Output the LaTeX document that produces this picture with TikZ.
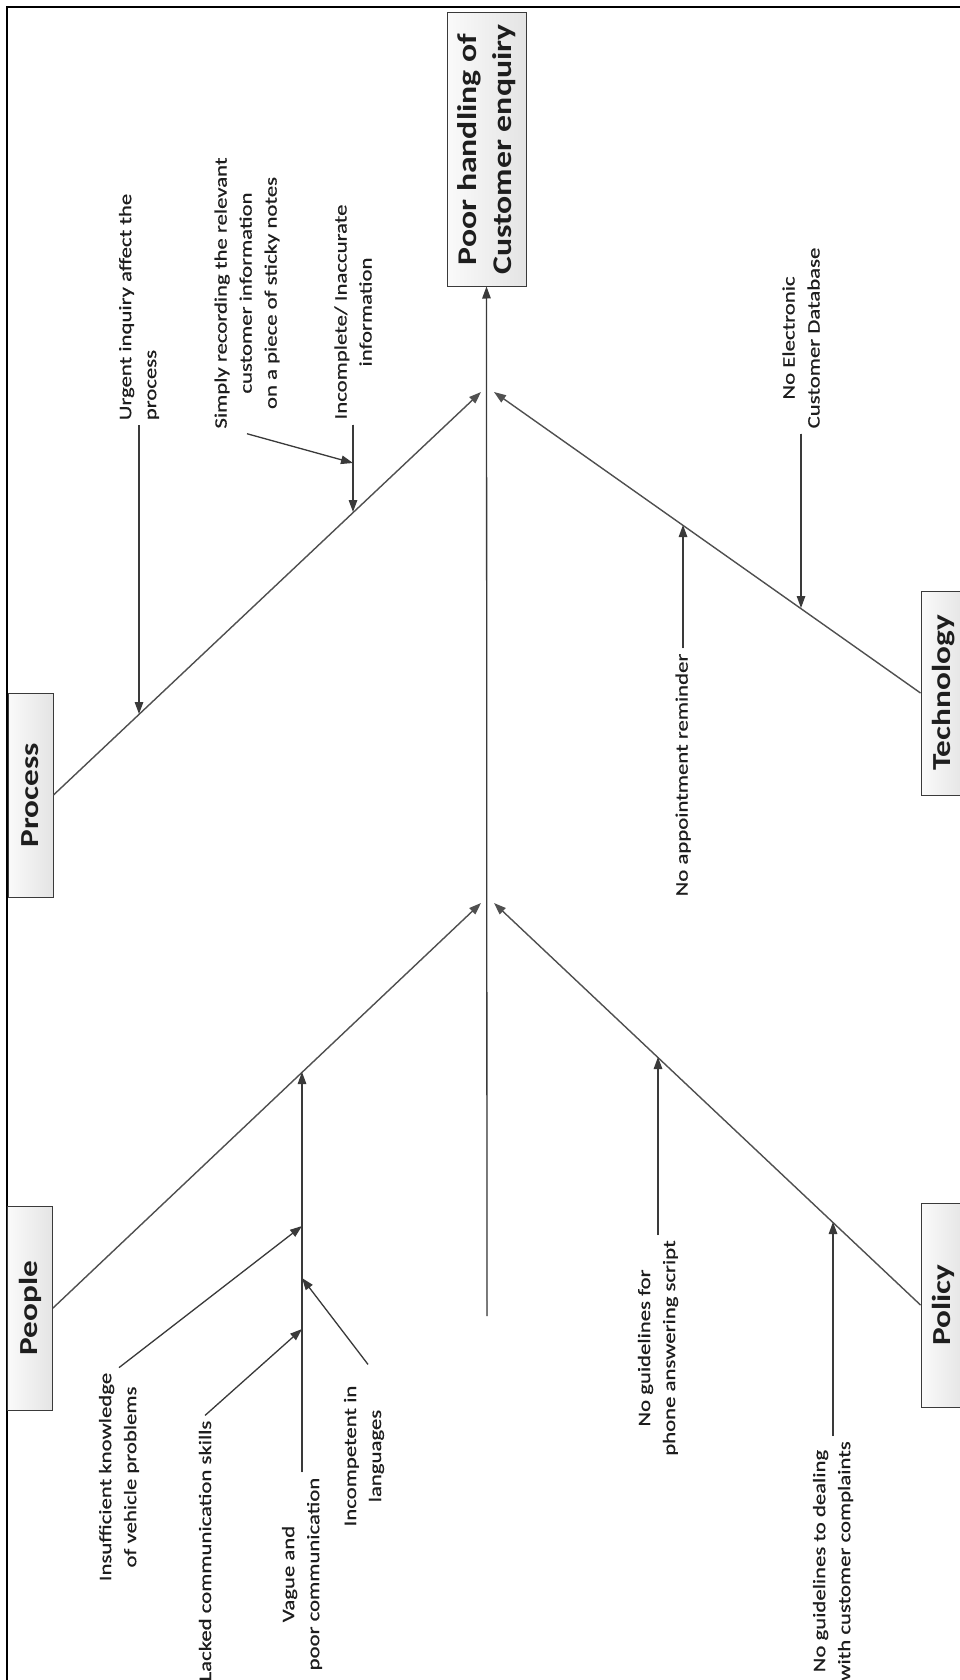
\documentclass[tikz,border=0pt]{standalone}
\usepackage{fontspec}
\setmainfont{Carlito}
\newfontfamily\labfont[FakeStretch=1.3,FakeBold=0.6]{Carlito}
\newfontfamily\titfont[FakeStretch=1.25]{Carlito}
\newfontfamily\catfont[FakeStretch=1.28]{Carlito}
\usetikzlibrary{arrows.meta}
\definecolor{inkc}{HTML}{1E1E1E}
\definecolor{linec}{HTML}{3A3A3A}
\definecolor{ribc}{HTML}{505050}
\definecolor{boxl}{HTML}{FAFAFA}
\definecolor{boxr}{HTML}{E4E4E4}
\begin{document}
\begin{tikzpicture}[x=1pt,y=-1pt,
  lab/.style={rotate=90, align=center, inner sep=5pt, text=inkc,
    font=\labfont\fontsize{17.5}{25}\selectfont},
  labl/.style={lab, align=left},
  catbox/.style={draw=linec, line width=1pt, left color=boxl, right color=boxr,
    inner sep=0pt, text=inkc, font=\catfont\bfseries\fontsize{26}{30}\selectfont},
  titbox/.style={draw=linec, line width=1pt, left color=boxl, right color=boxr,
    inner sep=0pt, text=inkc, font=\titfont\bfseries\fontsize{27}{35}\selectfont},
  tip/.style={-{Triangle[length=12pt,width=8.5pt]}},
  bone/.style={tip, draw=linec, fill=linec, line width=1.3pt},
  rib/.style={tip, draw=ribc, fill=linec, line width=1.4pt}
]
\useasboundingbox (0,0) rectangle (960,1680);
\fill[white] (0,0) rectangle (960,1680);
% frame (cropped at right and bottom)
\draw[line width=2pt, black] (7,1680) -- (7,7) -- (960,7);

% effect box
\node[titbox, minimum width=79, minimum height=273] (title) at (486.5,149.5)
  {\rotatebox{90}{\begin{tabular}{@{}c@{}}Poor handling of\\Customer enquiry\end{tabular}}};

% category boxes
\node[catbox, minimum width=45, minimum height=204] (proc) at (30.5,795) {\rotatebox{90}{Process}};
\node[catbox, minimum width=45, minimum height=204] (ppl)  at (30,1308) {\rotatebox{90}{People}};
\node[catbox, minimum width=45, minimum height=204] (tech) at (943.5,693) {\rotatebox{90}{Technology}};
\node[catbox, minimum width=45, minimum height=204] (pol)  at (943.5,1305) {\rotatebox{90}{Policy}};

% spine and junctions
\coordinate (sb) at (487,1316);
\coordinate (pj) at (481,392);
\coordinate (tj) at (494,392);
\coordinate (lj) at (481,903);
\coordinate (rj) at (494,903);
\draw[bone] (sb) -- (title.south);

% ribs
\draw[rib] (proc.east) -- (pj);
\draw[rib] (tech.west) -- (tj);
\draw[rib] (ppl.east) -- (lj);
\draw[rib] (pol.west) -- (rj);

% Process causes
\node[labl] (urg) at (139,307) {Urgent inquiry affect the\\process};
\node[lab] (simp) at (247,293) {Simply recording the relevant\\customer information\\on a piece of sticky notes};
\node[lab] (incp) at (353,312) {Incomplete/ Inaccurate\\information};
\coordinate (ut) at (139,714);
\coordinate (it) at (353,512);
\coordinate (st) at (353,463);
\draw[bone] (urg.west) -- (urg.west |- ut);
\draw[bone] (incp.west) -- (incp.west |- it);
\draw[bone] (simp.west) -- (st);

% Technology causes
\node[lab] (elec) at (801,338) {No Electronic\\Customer Database};
\node[lab] (appt) at (683,775) {No appointment reminder};
\coordinate (et) at (801,608);
\coordinate (at) at (683,525);
\draw[bone] (elec.west) -- (elec.west |- et);
\draw[bone] (appt.east) -- (appt.east |- at);

% People causes
\node[lab] (vag) at (302,1574) {Vague and\\poor communication};
\node[lab] (ins) at (119,1477) {Insufficient knowledge\\of vehicle problems};
\node[lab] (lac) at (205,1551) {Lacked communication skills};
\node[lab] (icl) at (364,1456) {Incompetent in\\languages};
\coordinate (vt) at (302,1072);
\coordinate (ist) at (302,1226);
\coordinate (lct) at (302,1329);
\coordinate (ict) at (302,1278);
\draw[bone] (vag.east) -- (vag.east |- vt);
\draw[bone] (ins.east) -- (ist);
\draw[bone] (lac.east) -- (lct);
\draw[bone] ([yshift=16pt,xshift=4pt]icl.east) -- (ict);

% Policy causes
\node[lab] (phon) at (658,1348) {No guidelines for\\phone answering script};
\node[lab] (deal) at (833,1561) {No guidelines to dealing\\with customer complaints};
\coordinate (pht) at (658,1057);
\coordinate (dt) at (833,1222);
\draw[bone] (phon.east) -- (phon.east |- pht);
\draw[bone] (deal.east) -- (deal.east |- dt);
\end{tikzpicture}
\end{document}
